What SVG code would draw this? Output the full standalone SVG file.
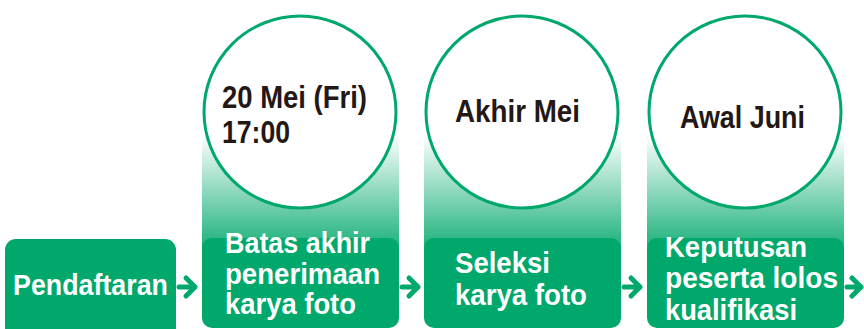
<svg xmlns="http://www.w3.org/2000/svg" width="864" height="329" viewBox="0 0 864 329">
<style>
.box{fill:#00a86b}
.ring{fill:#fff;stroke:#00a86b;stroke-width:3}
.w{fill:#fff;font-family:"Liberation Sans",Arial,sans-serif;font-weight:bold;font-size:30px}
.k{fill:#231815;font-family:"Liberation Sans",Arial,sans-serif;font-weight:bold;font-size:31px}
.arr{fill:none;stroke:#00a86b;stroke-width:5;stroke-linecap:round;stroke-linejoin:round}
</style>
<defs>
<linearGradient id="fade" x1="0" y1="0" x2="0" y2="1">
<stop offset="0" stop-color="#ffffff"/>
<stop offset="0.15" stop-color="#ffffff"/>
<stop offset="1" stop-color="#00a86b"/>
</linearGradient>
</defs>
<rect width="864" height="329" fill="#fff"/>
<g id="n1">
<rect class="box" x="5" y="239" width="171" height="100" rx="11"/>
<text class="w" x="13" y="295" textLength="155" lengthAdjust="spacingAndGlyphs">Pendaftaran</text>
</g>
<g id="n2">
<rect x="202" y="112" width="197" height="150" fill="url(#fade)"/>
<rect class="box" x="202" y="238" width="197" height="90" rx="10"/>
<circle class="ring" cx="300" cy="112" r="96"/>
<text class="k" x="222" y="108" textLength="145" lengthAdjust="spacingAndGlyphs">20 Mei (Fri)</text>
<text class="k" x="222" y="143" textLength="68" lengthAdjust="spacingAndGlyphs">17:00</text>
<text class="w" x="225" y="253" textLength="145" lengthAdjust="spacingAndGlyphs">Batas akhir</text>
<text class="w" x="225" y="284" textLength="155" lengthAdjust="spacingAndGlyphs">penerimaan</text>
<text class="w" x="225" y="314" textLength="131" lengthAdjust="spacingAndGlyphs">karya foto</text>
</g>
<g id="n3">
<rect x="424" y="112" width="197" height="150" fill="url(#fade)"/>
<rect class="box" x="424" y="238" width="197" height="90" rx="10"/>
<circle class="ring" cx="522" cy="112" r="96"/>
<text class="k" x="455" y="122" textLength="125" lengthAdjust="spacingAndGlyphs">Akhir Mei</text>
<text class="w" x="455" y="273" textLength="95" lengthAdjust="spacingAndGlyphs">Seleksi</text>
<text class="w" x="455" y="305" textLength="132" lengthAdjust="spacingAndGlyphs">karya foto</text>
</g>
<g id="n4">
<rect x="647" y="112" width="197" height="150" fill="url(#fade)"/>
<rect class="box" x="647" y="238" width="197" height="90" rx="10"/>
<circle class="ring" cx="745" cy="112" r="96"/>
<text class="k" x="680" y="128" textLength="125" lengthAdjust="spacingAndGlyphs">Awal Juni</text>
<text class="w" x="665" y="257" textLength="142" lengthAdjust="spacingAndGlyphs">Keputusan</text>
<text class="w" x="665" y="288" textLength="173" lengthAdjust="spacingAndGlyphs">peserta lolos</text>
<text class="w" x="665" y="320" textLength="132" lengthAdjust="spacingAndGlyphs">kualifikasi</text>
</g>
<g id="connectors">
<path class="arr" d="M179 287H195M186 278L195 287L186 296"/>
<path class="arr" d="M402 287H418M409 278L418 287L409 296"/>
<path class="arr" d="M624 287H640M631 278L640 287L631 296"/>
<path class="arr" d="M847 287H861M852 278L861 287L852 296"/>
</g>
</svg>
